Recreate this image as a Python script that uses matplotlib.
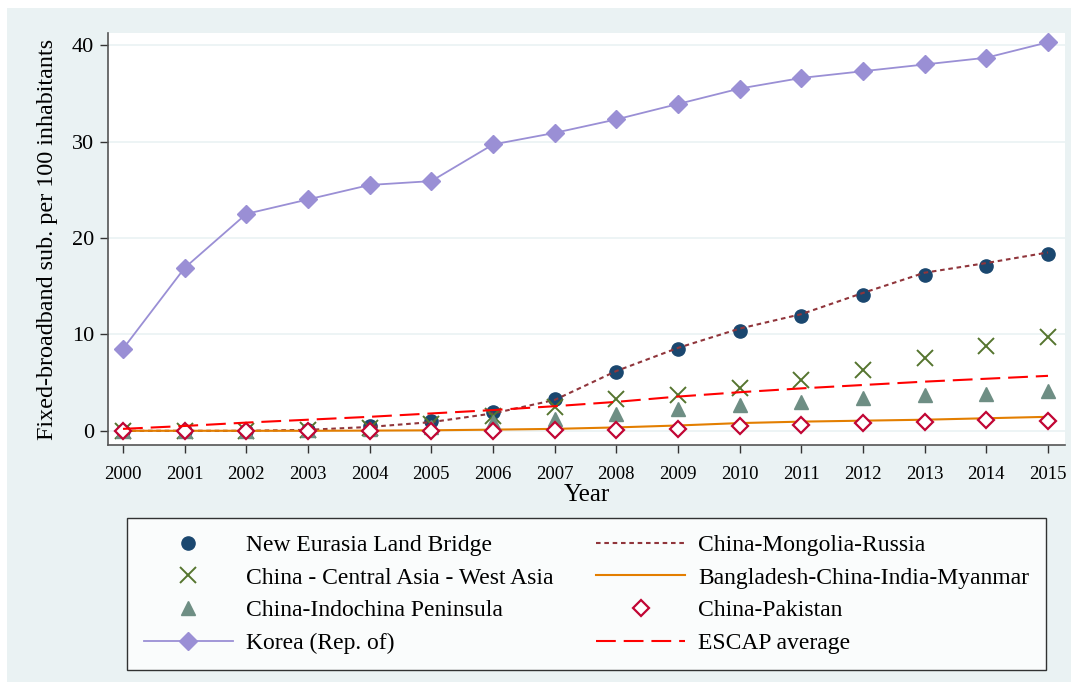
import numpy as np
import matplotlib
matplotlib.use('Agg')
import matplotlib.pyplot as plt
from matplotlib.patches import Rectangle

# ================================
# DATA
# ================================
years = list(range(2000, 2016))

nelb = [0.0, 0.0, 0.0, 0.1, 0.5, 1.0, 1.9, 3.3, 6.1, 8.5, 10.4, 11.9, 14.1, 16.2, 17.1, 18.3]
cmr = [0.0, 0.0, 0.0, 0.1, 0.4, 0.9, 1.8, 3.2, 6.2, 8.6, 10.6, 12.1, 14.3, 16.4, 17.4, 18.5]
cawa = [0.0, 0.0, 0.0, 0.1, 0.3, 0.7, 1.5, 2.5, 3.3, 3.7, 4.4, 5.3, 6.3, 7.5, 8.8, 9.7]
bcim = [0.0, 0.0, 0.0, 0.0, 0.02, 0.05, 0.12, 0.2, 0.35, 0.55, 0.8, 0.95, 1.05, 1.15, 1.3, 1.45]
indochina = [0.0, 0.0, 0.0, 0.05, 0.15, 0.4, 0.9, 1.2, 1.7, 2.3, 2.7, 3.0, 3.4, 3.7, 3.8, 4.1]
pakistan = [0.0, 0.0, 0.0, 0.0, 0.0, 0.0, 0.0, 0.05, 0.1, 0.2, 0.45, 0.6, 0.8, 0.9, 1.1, 1.0]
korea = [8.5, 16.9, 22.5, 24.0, 25.5, 25.9, 29.7, 30.9, 32.3, 33.9, 35.5, 36.6, 37.3, 38.0, 38.7, 40.3]
escap = [0.2, 0.5, 0.85, 1.15, 1.45, 1.8, 2.15, 2.55, 3.0, 3.55, 4.0, 4.4, 4.75, 5.1, 5.4, 5.7]

yticks = [0, 10, 20, 30, 40]

# ================================
# FIGURE
# ================================
plt.rcParams['font.family'] = ['Liberation Serif', 'DejaVu Serif']
BG = '#EAF2F3'

fig = plt.figure(figsize=(10.78, 6.9), dpi=100)
fig.patch.set_facecolor('white')
fig.add_artist(Rectangle((7/1078, 8/690), 1 - 14/1078, 1 - 16/690,
                         transform=fig.transFigure, facecolor=BG,
                         edgecolor='none', zorder=-10))

ax = fig.add_axes([108/1078, 1 - 445/690, (1065 - 108)/1078, (445 - 33)/690])
ax.set_facecolor('white')

h_nelb, = ax.plot(years, nelb, 'o', color='#1A476F', markersize=9.5, linestyle='none',
                  label='New Eurasia Land Bridge')
h_cmr, = ax.plot(years, cmr, color='#90353B', lw=1.5, dashes=(2.2, 1.8),
                 label='China-Mongolia-Russia')
h_cawa, = ax.plot(years, cawa, 'x', color='#55752F', markersize=11, mew=1.4,
                  linestyle='none', label='China - Central Asia - West Asia')
h_bcim, = ax.plot(years, bcim, color='#E37E00', lw=1.5,
                  label='Bangladesh-China-India-Myanmar')
h_indo, = ax.plot(years, indochina, '^', color='#6E8E84', markersize=10,
                  linestyle='none', label='China-Indochina Peninsula')
h_pak, = ax.plot(years, pakistan, 'D', markerfacecolor='white', markeredgecolor='#C10534',
                 markersize=8, mew=1.6, linestyle='none', label='China-Pakistan')
h_kor, = ax.plot(years, korea, '-D', color='#9A8FD5', lw=1.3, markersize=9,
                 label='Korea (Rep. of)')
h_esc, = ax.plot(years, escap, color='#FF0000', lw=1.5, dashes=(9.5, 3.8),
                 label='ESCAP average')

ax.set_xlim(2000 - 15/61.67, 2015 + 17/61.67)
ax.set_ylim(-14/9.5, 40 + 12/9.5)
ax.set_xticks(years)
ax.set_yticks(yticks)
ax.tick_params(axis='both', length=6, width=1, color='#333333')
ax.tick_params(axis='x', labelsize=13.5, pad=9)
ax.tick_params(axis='y', labelsize=16, pad=4)
ax.yaxis.grid(True, color=BG, lw=1.2)
ax.set_axisbelow(True)
for s in ['top', 'right']:
    ax.spines[s].set_visible(False)
for s in ['left', 'bottom']:
    ax.spines[s].set_color('#555555')
    ax.spines[s].set_linewidth(1.2)

ax.set_xlabel('Year', fontsize=18, labelpad=1)
ax.set_ylabel('Fixed-broadband sub. per 100 inhabitants', fontsize=17.4, labelpad=10)

# legend fills column by column
handles = [h_nelb, h_cawa, h_indo, h_kor, h_cmr, h_bcim, h_pak, h_esc]
leg = fig.legend(handles=handles, loc='upper left', ncol=2, mode='expand',
                 bbox_to_anchor=(127/1078, 1 - 663/690, (1046 - 127)/1078, (663 - 518)/690),
                 fontsize=17, frameon=True, fancybox=False, edgecolor='black',
                 handlelength=3.8, handletextpad=0.55, labelspacing=0.47,
                 borderaxespad=0, borderpad=0.7)
leg.get_frame().set_linewidth(1.0)

fig.savefig('out.png', dpi=100, facecolor=fig.get_facecolor())
